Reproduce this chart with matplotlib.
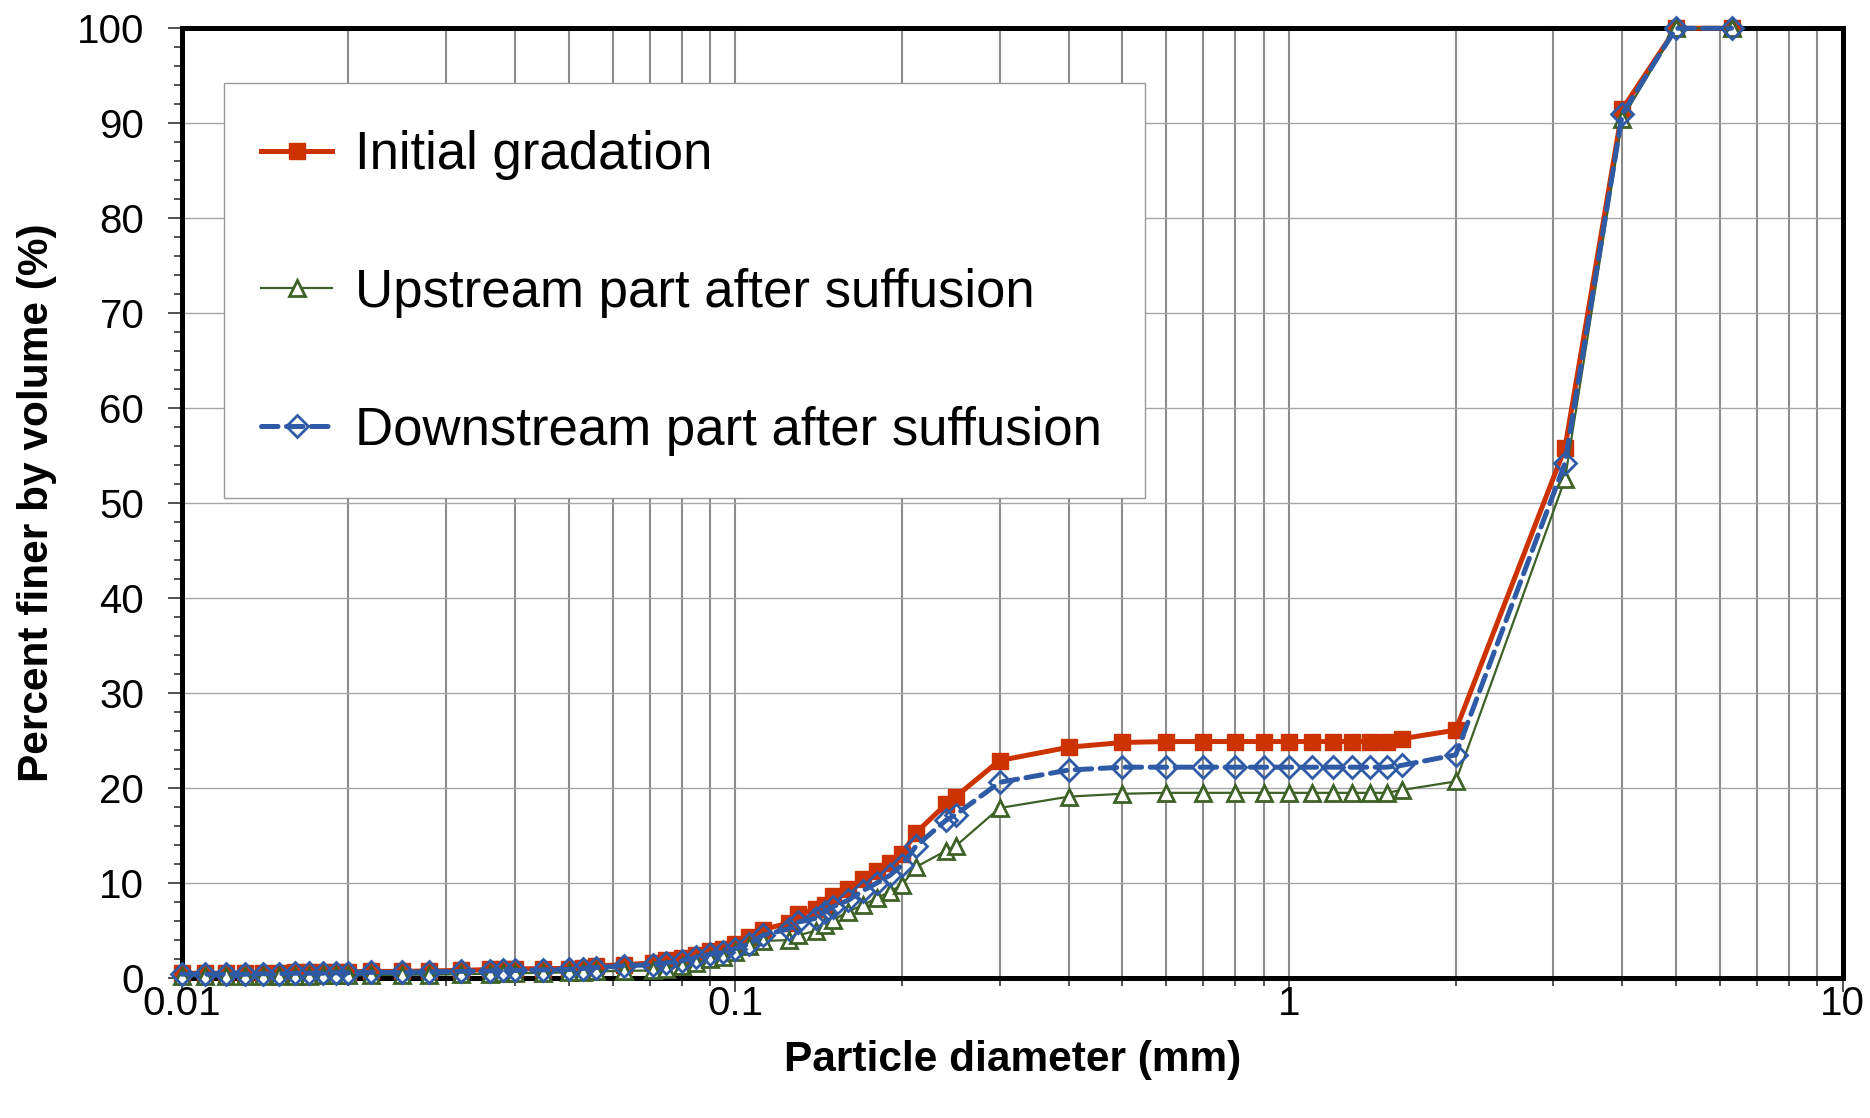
import numpy as np
import matplotlib
matplotlib.use("Agg")
import matplotlib.pyplot as plt
from matplotlib.patches import Rectangle
from matplotlib.ticker import LogLocator, MultipleLocator, FixedLocator, NullFormatter

plt.rcParams['font.family'] = ['Liberation Sans', 'DejaVu Sans']

# particle diameters (mm)
diam = [0.010, 0.011, 0.012, 0.013, 0.014, 0.015, 0.016, 0.017, 0.018, 0.019,
        0.020, 0.022, 0.025, 0.028, 0.032, 0.036, 0.038, 0.040, 0.045, 0.050,
        0.053, 0.056, 0.063, 0.071, 0.075, 0.080, 0.085, 0.090, 0.095, 0.100,
        0.106, 0.112, 0.125, 0.130, 0.140, 0.145, 0.150, 0.160, 0.170, 0.180,
        0.190, 0.200, 0.212, 0.240, 0.250, 0.30, 0.40, 0.50, 0.60, 0.70,
        0.80, 0.90, 1.0, 1.1, 1.2, 1.3, 1.4, 1.5, 1.6, 2.0,
        3.15, 4.0, 5.0, 6.3]

# percent finer (%)
initial = [0.5, 0.5, 0.5, 0.5, 0.55, 0.55, 0.6, 0.6, 0.6, 0.65,
           0.65, 0.7, 0.7, 0.75, 0.8, 0.9, 0.9, 0.95, 1.0, 1.0,
           1.1, 1.3, 1.4, 1.6, 1.9, 2.1, 2.4, 2.8, 3.1, 3.6,
           4.3, 5.1, 5.8, 6.7, 7.3, 7.7, 8.6, 9.4, 10.4, 11.3,
           12.1, 13.1, 15.3, 18.3, 19.1, 22.9, 24.3, 24.8, 24.9, 24.9,
           24.9, 24.9, 24.9, 24.9, 24.9, 24.9, 24.9, 24.9, 25.2, 26.1,
           55.8, 91.5, 100.0, 100.0]

upstream = [0.2, 0.2, 0.2, 0.2, 0.2, 0.25, 0.25, 0.25, 0.3, 0.3,
            0.3, 0.3, 0.35, 0.35, 0.4, 0.45, 0.5, 0.5, 0.55, 0.6,
            0.65, 0.7, 0.75, 0.8, 1.0, 1.3, 1.6, 2.0, 2.2, 2.7,
            3.4, 3.9, 4.0, 4.5, 5.0, 5.6, 6.1, 7.0, 7.7, 8.4,
            9.1, 9.8, 11.7, 13.4, 13.9, 17.9, 19.1, 19.4, 19.5, 19.5,
            19.5, 19.5, 19.5, 19.5, 19.5, 19.5, 19.5, 19.5, 19.8, 20.7,
            52.5, 90.5, 100.0, 100.0]

downstream = [0.4, 0.4, 0.4, 0.4, 0.45, 0.45, 0.5, 0.5, 0.5, 0.55,
              0.55, 0.6, 0.6, 0.65, 0.7, 0.75, 0.8, 0.8, 0.85, 0.9,
              1.0, 1.1, 1.3, 1.4, 1.6, 1.8, 2.2, 2.5, 2.7, 3.1,
              3.6, 4.5, 5.2, 5.9, 6.3, 7.0, 7.5, 8.2, 9.2, 10.0,
              10.8, 11.9, 13.9, 16.6, 17.2, 20.6, 21.9, 22.2, 22.2, 22.2,
              22.2, 22.2, 22.2, 22.2, 22.2, 22.2, 22.2, 22.2, 22.4, 23.5,
              54.2, 91.0, 100.0, 100.0]

labels = ["Initial gradation", "Upstream part after suffusion",
          "Downstream part after suffusion"]

red = '#CC3300'
green = '#3D6126'
blue = '#2F5AA5'

fig = plt.figure(figsize=(18.7, 11.18), dpi=100)
ax = fig.add_axes([0.0972, 0.1252, 0.8882, 0.8495])

l1, = ax.plot(diam, initial, color=red, lw=3.6, marker='s', ms=12,
              mfc=red, mec=red, label=labels[0], zorder=3, clip_on=False)
l2, = ax.plot(diam, upstream, color=green, lw=1.6, marker='^', ms=12,
              mfc='white', mec=green, mew=2.0, label=labels[1], zorder=4,
              clip_on=False)
l3, = ax.plot(diam, downstream, color=blue, lw=3.6, ls=(0, (3.3, 1.7)),
              dash_capstyle='round', marker='D', ms=11, mfc='none', mec=blue,
              mew=2.0, label=labels[2], zorder=5, clip_on=False)

ax.set_xscale('log')
ax.set_xlim(0.01, 10)
ax.set_ylim(0, 100)

ax.xaxis.set_major_locator(FixedLocator([0.01, 0.1, 1, 10]))
ax.xaxis.set_minor_locator(LogLocator(base=10, subs=np.arange(2, 10)))
ax.xaxis.set_minor_formatter(NullFormatter())
ax.set_xticklabels(['0.01', '0.1', '1', '10'])
ax.yaxis.set_major_locator(MultipleLocator(10))
ax.yaxis.set_minor_locator(MultipleLocator(2))

ax.grid(which='major', axis='y', color='#A6A6A6', lw=1.0, zorder=0)
ax.grid(which='both', axis='x', color='#8C8C8C', lw=1.5, zorder=0)
ax.set_axisbelow(True)

for sp in ax.spines.values():
    sp.set_linewidth(3.6)
    sp.set_color('black')

ax.tick_params(axis='both', which='major', direction='out', length=10,
               width=1.2, color='#333333', labelsize=29)
ax.tick_params(axis='both', which='minor', direction='out', length=6,
               width=1.2, color='#333333')
ax.tick_params(axis='y', which='major', pad=17)
ax.tick_params(axis='x', which='major', pad=-5)

ax.set_xlabel('Particle diameter (mm)', fontsize=30.5, fontweight='bold',
              labelpad=12)
ax.set_ylabel('Percent finer by volume (%)', fontsize=30.5, fontweight='bold',
              labelpad=14)

# legend box drawn separately so its padding can differ per side
box = Rectangle((0.0255, 0.505), 0.5545, 0.437, transform=ax.transAxes,
                facecolor='white', edgecolor='#999999', lw=1.0, zorder=6)
ax.add_patch(box)

leg = ax.legend(handles=[l1, l2, l3], loc='upper left',
                bbox_to_anchor=(0.0195, 0.942), fontsize=38, frameon=False,
                handlelength=1.35, handletextpad=0.43, labelspacing=1.66,
                borderpad=0.89, borderaxespad=0)
leg.set_zorder(7)

fig.savefig('out.png', dpi=100)
